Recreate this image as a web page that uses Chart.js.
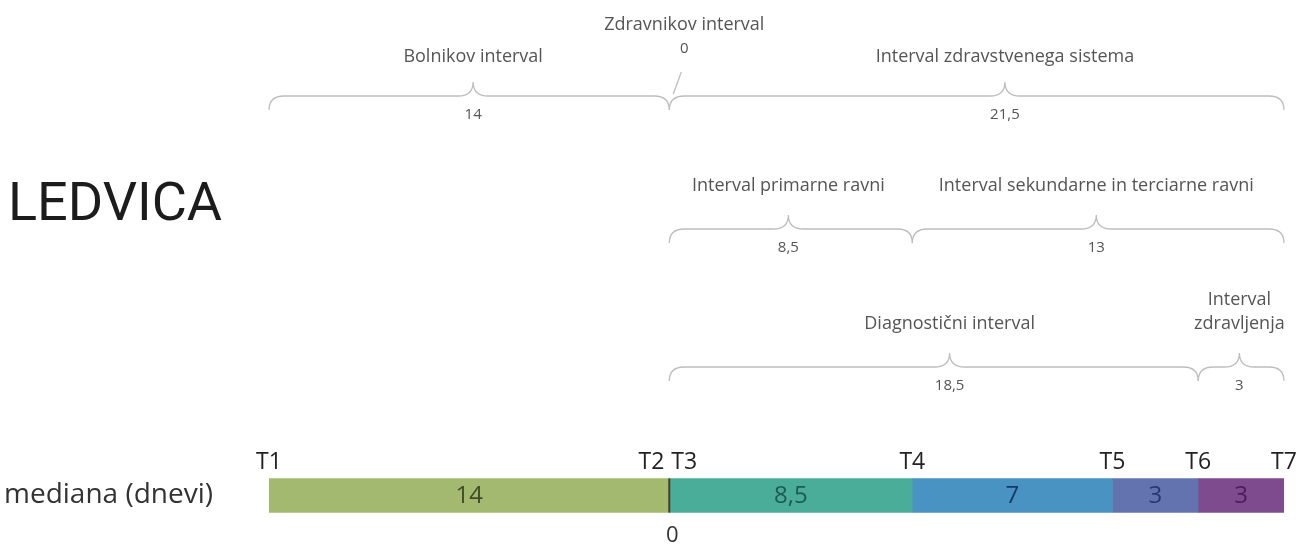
<!DOCTYPE html>
<html>
<head>
<meta charset="utf-8">
<script src="https://cdn.jsdelivr.net/npm/chart.js@4"></script>
<style>
  body { margin: 0; background: #fff; }
  #wrap { width: 1301px; height: 545px; position: relative; }
</style>
</head>
<body>
<div id="wrap"><canvas id="myChart"></canvas></div>
<script>
// podatki (mediana v dnevih)
const categories = ['mediana (dnevi)'];
const timePoints = ['T1', 'T2', 'T3', 'T4', 'T5', 'T6', 'T7'];
const segmentValues = [14, 0, 8.5, 7, 3, 3];
const segmentColors = ['#a3b96f', '#4a3b2c', '#4aad9a', '#4993c3', '#6373b0', '#7e4b8e'];
const segmentTextColors = ['#3f4c26', '#333333', '#1d5b52', '#16386b', '#283676', '#4a1d5a'];

// intervali (od / do = indeks točke T)
const intervalNames = ['Bolnikov interval', 'Zdravnikov interval', 'Interval zdravstvenega sistema',
  'Interval primarne ravni', 'Interval sekundarne in terciarne ravni',
  'Diagnostični interval', 'Interval\nzdravljenja'];
const intervalFrom = [0, 1, 2, 2, 3, 2, 5];
const intervalTo = [1, 2, 6, 3, 6, 5, 6];
const intervalRow = [0, 0, 0, 1, 1, 2, 2];

// samo za izris
const tipShift = [0.51, 0, 0.546, 0.49, 0.495, 0.53, 0.48];
const rowY = [96, 229, 367];
const rowLabelGap = [39, 43, 43];

const cum = [0];
segmentValues.forEach(v => cum.push(cum[cum.length - 1] + v));
const total = cum[cum.length - 1];
const fmt = v => String(v).replace('.', ',');

function brace(ctx, x1, x2, xm, y) {
  const r = 15, h = 14, t = 14;
  ctx.beginPath();
  ctx.moveTo(x1, y + h);
  ctx.quadraticCurveTo(x1, y, x1 + r, y);
  ctx.lineTo(xm - r, y);
  ctx.quadraticCurveTo(xm, y, xm, y - t);
  ctx.quadraticCurveTo(xm, y, xm + r, y);
  ctx.lineTo(x2 - r, y);
  ctx.quadraticCurveTo(x2, y, x2, y + h);
  ctx.stroke();
}

const overlay = {
  id: 'overlay',
  afterDraw(chart) {
    const ctx = chart.ctx;
    const px = v => chart.scales.x.getPixelForValue(v);
    const bar = chart.getDatasetMeta(0).data[0];
    const top = bar.y - bar.height / 2, bottom = bar.y + bar.height / 2;
    ctx.save();

    // naslov
    ctx.fillStyle = '#1c1c1c';
    ctx.font = '54px Roboto';
    ctx.textAlign = 'left';
    ctx.textBaseline = 'alphabetic';
    ctx.fillText('LEDVICA', 8, 220);
    ctx.textBaseline = 'middle';

    // oznaka kategorije
    ctx.fillStyle = '#333';
    ctx.font = '28px "Open Sans"';
    ctx.fillText(categories[0], 4, bar.y);

    // vrednosti v segmentih
    segmentValues.forEach((v, i) => {
      if (v === 0) {
        const x = px(cum[i]);
        ctx.strokeStyle = segmentColors[i];
        ctx.lineWidth = 2;
        ctx.beginPath();
        ctx.moveTo(x, top);
        ctx.lineTo(x, bottom);
        ctx.stroke();
        ctx.fillStyle = segmentTextColors[i];
        ctx.textAlign = 'center';
        ctx.font = '22px "Open Sans"';
        ctx.fillText(fmt(v), x + 3, bottom + 23);
      } else {
        ctx.fillStyle = segmentTextColors[i];
        ctx.textAlign = 'center';
        ctx.font = '24px "Open Sans"';
        ctx.fillText(fmt(v), px(cum[i] + v / 2), bar.y + 1);
      }
    });

    // točke T
    ctx.fillStyle = '#222';
    ctx.font = '23px "Open Sans"';
    timePoints.forEach((t, i) => {
      let x = px(cum[i]);
      ctx.textAlign = 'center';
      if (i > 0 && cum[i] === cum[i - 1]) { ctx.textAlign = 'left'; x += 2; }
      else if (i < cum.length - 1 && cum[i] === cum[i + 1]) { ctx.textAlign = 'right'; x -= 5; }
      ctx.fillText(t, x, top - 16);
    });

    // oklepaji z intervali
    ctx.strokeStyle = '#bdbdbd';
    ctx.lineWidth = 1.3;
    intervalNames.forEach((name, k) => {
      const a = cum[intervalFrom[k]], b = cum[intervalTo[k]];
      const row = intervalRow[k];
      const y = rowY[row];
      const x1 = px(a), x2 = px(b);
      ctx.fillStyle = '#555';
      ctx.textAlign = 'center';
      if (b - a === 0) {
        const lx = x1 + 15;
        ctx.font = '18px "Open Sans"';
        ctx.fillText(name, lx, 25);
        ctx.font = '15px "Open Sans"';
        ctx.fillText(fmt(b - a), lx, 49);
        ctx.beginPath();
        ctx.moveTo(lx - 3, y - 24);
        ctx.lineTo(x1 + 4, y - 2);
        ctx.stroke();
        return;
      }
      const xm = x1 + (x2 - x1) * tipShift[k];
      brace(ctx, x1, x2, xm, y);
      ctx.font = '18px "Open Sans"';
      const lines = name.split('\n');
      lines.forEach((ln, j) => {
        ctx.fillText(ln, xm, y - rowLabelGap[row] - (lines.length - 1 - j) * 24);
      });
      ctx.font = '15px "Open Sans"';
      ctx.fillText(fmt(Math.round((b - a) * 10) / 10), xm, y + 19);
    });
    ctx.restore();
  }
};

const ctx = document.getElementById('myChart').getContext('2d');
const myChart = new Chart(ctx, {
  type: 'bar',
  data: {
    labels: categories,
    datasets: segmentValues.map((v, i) => ({
      label: 'T' + (i + 1) + '-T' + (i + 2),
      data: [v],
      backgroundColor: segmentColors[i],
      borderWidth: 0,
      barThickness: 34
    }))
  },
  options: {
    indexAxis: 'y',
    responsive: true,
    maintainAspectRatio: false,
    animation: false,
    layout: { padding: { left: 269, right: 17, top: 462, bottom: 16 } },
    scales: {
      x: { stacked: true, min: 0, max: total, display: false },
      y: { stacked: true, display: false }
    },
    plugins: { legend: { display: false }, tooltip: { enabled: false } }
  },
  plugins: [overlay]
});
</script>
</body>
</html>
